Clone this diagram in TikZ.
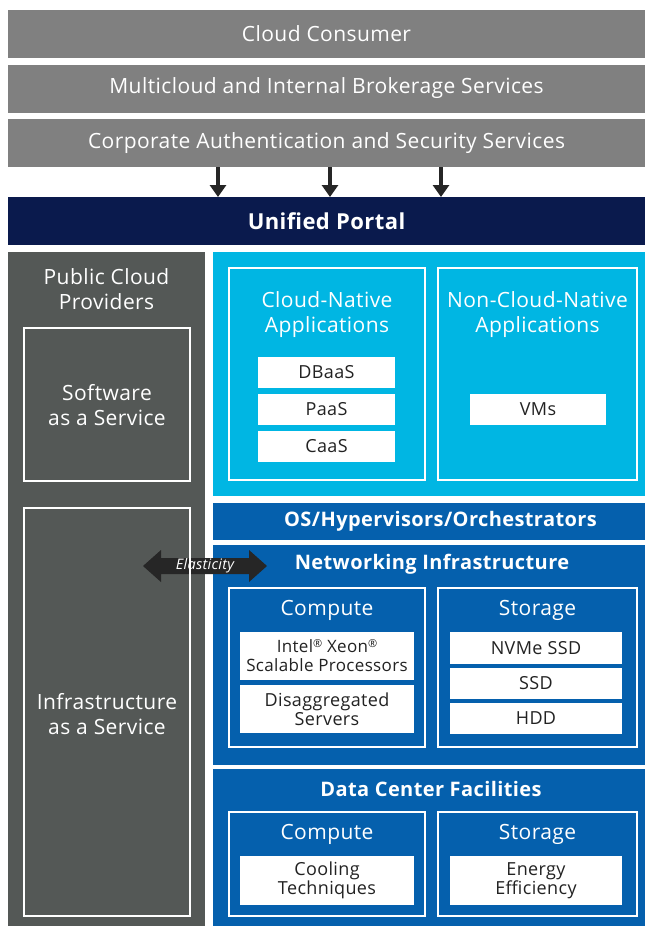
\documentclass[tikz,border=0pt]{standalone}
\usepackage{fontspec}
\setmainfont{Open Sans}[LetterSpace=2]
\usetikzlibrary{arrows.meta}
\definecolor{barGray}{HTML}{808080}
\definecolor{portalNavy}{HTML}{0A1A4D}
\definecolor{leftGray}{HTML}{545856}
\definecolor{cyanPanel}{HTML}{00B6E3}
\definecolor{bluePanel}{HTML}{0560AD}
\definecolor{arrowDark}{HTML}{262626}
\definecolor{boxText}{HTML}{222222}
\tikzset{
  rbox/.style={rectangle, inner sep=0pt, outer sep=0pt},
  greybar/.style={rbox, fill=barGray, minimum width=637, minimum height=48, text=white, font=\fontsize{21}{25}\selectfont},
  portalbar/.style={rbox, fill=portalNavy, minimum width=637, minimum height=48, text=white, font=\fontsize{22}{26}\selectfont\bfseries},
  fillpanel/.style={rbox, fill=#1},
  outl/.style={rbox, draw=white, line width=1.6pt},
  wbox/.style={rbox, fill=white, text=boxText, align=center, font=\fontsize{18}{20}\selectfont},
  ttl/.style={text=white, align=center, inner sep=0pt, font=\fontsize{21}{25}\selectfont},
  bttl/.style={text=white, align=center, inner sep=0pt, font=\fontsize{20}{24}\selectfont\bfseries},
  dnarrow/.style={draw=arrowDark, line width=3.5pt, -{Triangle[width=16pt,length=12pt]}},
}
\newcommand{\regm}{{\fontsize{11}{11}\selectfont\raisebox{5pt}{®}}}
\begin{document}
\begin{tikzpicture}[x=1pt,y=-1pt]
\useasboundingbox[fill=white] (0,0) rectangle (645,926);
% top bars
\node[greybar] (consumer) at (326.5,34) {Cloud Consumer};
\node[greybar] (multi) at (326.5,88.5) {Multicloud and Internal Brokerage Services};
\node[greybar] (corp) at (326.5,143) {Corporate Authentication and Security Services};
\node[portalbar] (portal) at (326.5,221) {Unified Portal};
\coordinate (ax1) at (218,0);
\coordinate (ax2) at (330,0);
\coordinate (ax3) at (441,0);
\draw[dnarrow] (corp.south -| ax1) -- (portal.north -| ax1);
\draw[dnarrow] (corp.south -| ax2) -- (portal.north -| ax2);
\draw[dnarrow] (corp.south -| ax3) -- (portal.north -| ax3);
% panel fills
\node[fillpanel=leftGray, minimum width=197, minimum height=674] (left) at (106.5,589) {};
\node[fillpanel=cyanPanel, minimum width=432, minimum height=244] (cyan) at (429,374) {};
\node[fillpanel=bluePanel, minimum width=432, minimum height=37] (os) at (429,521.5) {};
\node[bttl] (osT) at (440.5,521.5) {OS/Hypervisors/Orchestrators};
\node[fillpanel=bluePanel, minimum width=432, minimum height=220] (net) at (429,655) {};
\node[fillpanel=bluePanel, minimum width=432, minimum height=157] (dcf) at (429,847.5) {};
% elasticity arrow (under the IaaS outline)
\fill[arrowDark] (143,566) -- (161,550) -- (161,558) -- (249,558) -- (249,550) -- (267,566) -- (249,582) -- (249,574) -- (161,574) -- (161,582) -- cycle;
\node[text=white, inner sep=0pt, font=\itshape\fontsize{14.5}{16}\selectfont] (elast) at (205,565.5) {Elasticity};
% left column
\node[ttl] (pcp) at (106.5,289.5) {Public Cloud\\Providers};
\node[outl, minimum width=166, minimum height=153] (saas) at (107,404.5) {};
\node[ttl] (saasT) at (107,405) {Software\\as a Service};
\node[outl, minimum width=166, minimum height=408] (iaas) at (107,712) {};
\node[ttl] (iaasT) at (107,714) {Infrastructure\\as a Service};
% cyan panel
\node[outl, minimum width=196, minimum height=212] (cn) at (327,374) {};
\node[ttl] (cnT) at (327,315) {Cloud-Native\\Applications};
\node[wbox, minimum width=137, minimum height=31] (dbaas) at (326.5,372.5) {DBaaS};
\node[wbox, minimum width=137, minimum height=31] (paas) at (326.5,409.5) {PaaS};
\node[wbox, minimum width=137, minimum height=31] (caas) at (326.5,446) {CaaS};
\node[outl, minimum width=199, minimum height=212] (ncn) at (537.5,374) {};
\node[ttl] (ncnT) at (537.5,315) {Non-Cloud-Native\\Applications};
\node[wbox, minimum width=136, minimum height=31] (vms) at (538,409.5) {VMs};
% networking
\node[bttl] (netT) at (432,564) {Networking Infrastructure};
\node[outl, minimum width=196, minimum height=159] (comp1) at (327,667.5) {};
\node[ttl] (comp1T) at (327,610) {Compute};
\node[wbox, minimum width=174, minimum height=48, font=\fontsize{17}{19}\selectfont] (intel) at (327,656) {Intel\regm{} Xeon\regm\\Scalable Processors};
\node[wbox, minimum width=174, minimum height=48, font=\fontsize{18}{19}\selectfont] (disagg) at (327,709) {Disaggregated\\Servers};
\node[outl, minimum width=199, minimum height=159] (stor1) at (537.5,667.5) {};
\node[ttl] (stor1T) at (537.5,610) {Storage};
\node[wbox, minimum width=172, minimum height=32] (nvme) at (536,648) {NVMe SSD};
\node[wbox, minimum width=172, minimum height=31] (ssd) at (536,683.5) {SSD};
\node[wbox, minimum width=172, minimum height=31] (hdd) at (536,718.5) {HDD};
% data center
\node[bttl] (dcfT) at (431,789) {Data Center Facilities};
\node[outl, minimum width=196, minimum height=104] (comp2) at (327,864) {};
\node[ttl] (comp2T) at (327,834) {Compute};
\node[wbox, minimum width=174, minimum height=49, font=\fontsize{18}{19}\selectfont] (cool) at (327,880.5) {Cooling\\Techniques};
\node[outl, minimum width=199, minimum height=104] (stor2) at (537.5,864) {};
\node[ttl] (stor2T) at (537.5,834) {Storage};
\node[wbox, minimum width=172, minimum height=49, font=\fontsize{18}{19}\selectfont] (energy) at (536,880.5) {Energy\\Efficiency};
\end{tikzpicture}
\end{document}
